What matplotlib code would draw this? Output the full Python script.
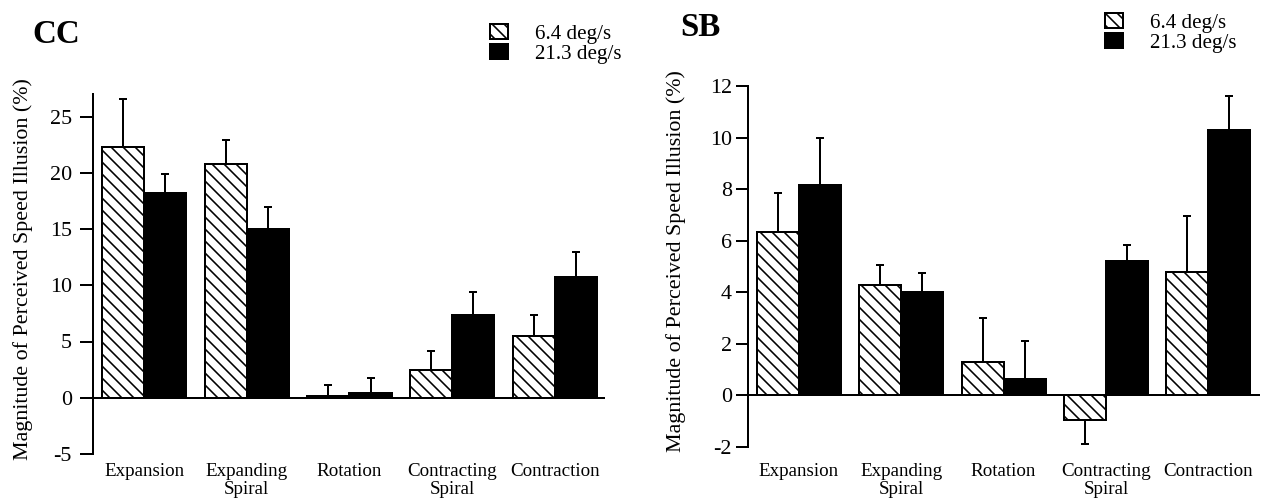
import numpy as np
import matplotlib
matplotlib.use('Agg')
import matplotlib.pyplot as plt
from matplotlib.patches import Patch

# data
categories = ['Expansion', 'Expanding\nSpiral', 'Rotation', 'Contracting\nSpiral', 'Contraction']
speeds = ['6.4 deg/s', '21.3 deg/s']

cc_slow = [22.3, 20.8, 0.15, 2.5, 5.5]
cc_slow_err = [4.3, 2.1, 1.0, 1.7, 1.9]
cc_fast = [18.2, 15.0, 0.45, 7.4, 10.7]
cc_fast_err = [1.7, 2.0, 1.3, 2.0, 2.3]

sb_slow = [6.35, 4.3, 1.3, -0.95, 4.8]
sb_slow_err = [1.5, 0.75, 1.7, 0.95, 2.15]
sb_fast = [8.15, 4.0, 0.65, 5.2, 10.3]
sb_fast_err = [1.85, 0.75, 1.45, 0.65, 1.3]

plt.rcParams['font.family'] = ['Liberation Serif', 'DejaVu Serif']
plt.rcParams['hatch.linewidth'] = 1.6
plt.rcParams['axes.unicode_minus'] = False

W, H = 1262, 502
DPI = 72
fig = plt.figure(figsize=(W / DPI, H / DPI), dpi=DPI)

w = 0.41
x = np.arange(len(categories))


def one_sided(vals, errs):
    vals = np.array(vals)
    errs = np.array(errs)
    lower = np.where(vals < 0, errs, 0)
    upper = np.where(vals < 0, 0, errs)
    return [lower, upper]


def panel(rect, slow, slow_err, fast, fast_err, ylim, yticks, xlim, tick_pad, xlab_pad):
    ax = fig.add_axes(rect)
    ax.errorbar(x - w / 2, slow, yerr=one_sided(slow, slow_err), fmt='none',
                ecolor='black', elinewidth=2, capsize=4, capthick=2, zorder=1)
    ax.errorbar(x + w / 2, fast, yerr=one_sided(fast, fast_err), fmt='none',
                ecolor='black', elinewidth=2, capsize=4, capthick=2, zorder=1)
    ax.bar(x - w / 2, slow, w, color='white', edgecolor='black', linewidth=2,
           hatch='\\\\', zorder=2)
    ax.bar(x + w / 2, fast, w, color='black', edgecolor='black', linewidth=2, zorder=2)
    ax.axhline(0, color='black', linewidth=2, zorder=3)

    ax.set_xlim(*xlim)
    ax.set_ylim(*ylim)
    ax.set_yticks(yticks)
    ax.set_xticks(x)
    ax.set_xticklabels(categories, fontsize=19)
    for lbl in ax.get_xticklabels():
        lbl.set_linespacing(1.1)
    ax.tick_params(axis='x', length=0, pad=xlab_pad)
    ax.tick_params(axis='y', length=13, width=2, pad=tick_pad, labelsize=22)

    for s in ['top', 'right', 'bottom']:
        ax.spines[s].set_visible(False)
    ax.spines['left'].set_linewidth(2)

    ax.set_ylabel('Magnitude of Perceived Speed Illusion (%)', fontsize=22)
    return ax


ax1 = panel([93 / W, 48 / H, 512 / W, 360 / H], cc_slow, cc_slow_err, cc_fast, cc_fast_err,
            (-5, 27.0), [-5, 0, 5, 10, 15, 20, 25], (-0.497, 4.488), 8, 9)
ax1.yaxis.set_label_coords(-0.117, 0.515)

ax2 = panel([748 / W, 55 / H, 512 / W, 361 / H], sb_slow, sb_slow_err, sb_fast, sb_fast_err,
            (-2, 12), [-2, 0, 2, 4, 6, 8, 10, 12], (-0.496, 4.504), 4, 16)
ax2.tick_params(axis='y', length=12)
ax2.yaxis.set_label_coords(-0.121, 0.515)

# panel titles
fig.text(32 / W, 1 - 35 / H, 'CC', fontsize=33, fontweight='bold', ha='left', va='center')
fig.text(680 / W, 1 - 28 / H, 'SB', fontsize=33, fontweight='bold', ha='left', va='center')

# legends
handles = [Patch(facecolor='white', edgecolor='black', linewidth=2, hatch='\\\\',
                 joinstyle='miter'),
           Patch(facecolor='black', edgecolor='black', linewidth=2, joinstyle='miter')]
for lx, ly in [(490, 24), (1105, 13)]:
    fig.legend(handles, speeds, loc='upper left', bbox_to_anchor=(lx / W, 1 - ly / H),
               frameon=False, fontsize=21, handlelength=0.85, handleheight=0.75,
               handletextpad=1.3, labelspacing=0.0, borderpad=0, borderaxespad=0)

fig.savefig('out.png', dpi=DPI)
